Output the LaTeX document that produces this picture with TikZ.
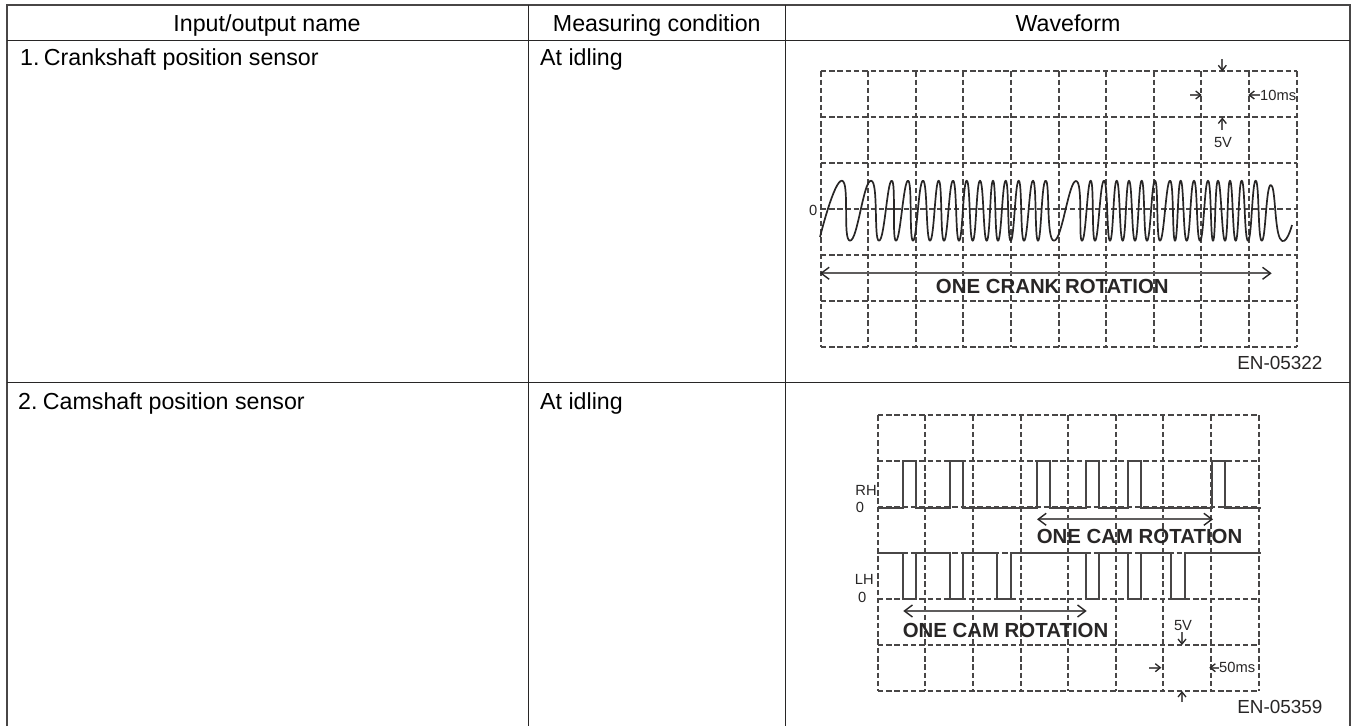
\documentclass[tikz,border=0pt]{standalone}
\usepackage{fontspec}
\setmainfont{Liberation Sans}
\usepackage{xcolor}
\usetikzlibrary{arrows.meta}
\definecolor{inkgray}{RGB}{40,38,38}
\definecolor{softgray}{RGB}{72,70,70}
\definecolor{palegray}{RGB}{95,93,93}
\tikzset{
    tableframe/.style={draw=softgray, line width=2pt},
    tablerule/.style={draw=inkgray, line width=1pt},
    griddash/.style={draw=softgray, line width=2pt, dash pattern=on 5.5pt off 2.8pt},
    signal/.style={draw=inkgray, line width=1.7pt, line join=round},
    pulse/.style={draw=softgray, line width=2pt, line join=miter},
    spanarrow/.style={draw=palegray, line width=2pt, {Straight Barb[length=8pt,width=12pt,line width=1.4pt,color=inkgray]}-{Straight Barb[length=8pt,width=12pt,line width=1.4pt,color=inkgray]}},
    tickarrow/.style={draw=palegray, line width=2pt, -{Straight Barb[length=5pt,width=8pt,line width=1.3pt,color=inkgray]}},
    celltext/.style={inner sep=0pt, anchor=base west, text=black, font=\fontsize{23.2}{26}\selectfont},
    headtext/.style={inner sep=0pt, anchor=base, text=black, font=\fontsize{23.2}{26}\selectfont},
    smalltext/.style={inner sep=0pt, text=inkgray, font=\fontsize{14.7}{17}\selectfont},
    codetext/.style={inner sep=0pt, text=inkgray, font=\fontsize{18.9}{22}\selectfont},
    spantext/.style={inner sep=0pt, text=inkgray, font=\bfseries\fontsize{20.4}{23}\selectfont}
}
\begin{document}
\begin{tikzpicture}[x=1pt, y=-1pt]
            \useasboundingbox (0,0) rectangle (1355,726);

            \draw[tableframe] (6.5,726) -- (6.5,5) -- (1350,5) -- (1350,726);
            \draw[tablerule] (6.5,40) -- (1350,40);
            \draw[tablerule] (6.5,382.5) -- (1350,382.5);
            \draw[tablerule] (528.3,5) -- (528.3,726);
            \draw[tablerule] (785.3,5) -- (785.3,726);

            \node[headtext] (headname) at (267,31.7) {Input/output name};
            \node[headtext] (headcond) at (656.8,31.7) {Measuring condition};
            \node[headtext] (headwave) at (1068,31.7) {Waveform};
            \node[celltext] (crankname) at (20,65.5) {1.\kern-2pt\ Crankshaft position sensor};
            \node[celltext] (crankcond) at (540,65.5) {At idling};
            \node[celltext] (camname) at (18,409.5) {2.\kern-1pt\ Camshaft position sensor};
            \node[celltext] (camcond) at (540,409.5) {At idling};

            \foreach \i in {0,...,10}
                \draw[griddash] (820.7+47.58*\i,71.3) -- (820.7+47.58*\i,347);
            \foreach \i in {0,...,6}
                \draw[griddash] (820.7,71.3+45.95*\i) -- (1296.5,71.3+45.95*\i);
            \foreach \i in {0,...,8}
                \draw[griddash] (877.7+47.6*\i,415.3) -- (877.7+47.6*\i,691);
            \foreach \i in {0,...,6}
                \draw[griddash] (877.7,415.3+45.95*\i) -- (1258.5,415.3+45.95*\i);

            \draw[signal] plot[smooth, tension=0.95] coordinates {
                (820,237) (842,180.7) (850,240.7) (871,180.7) (879,240.7)
                (891.7,180.7) (896,240.7) (908,180.7) (913,240.7) (923,180.7) (930,240.7) (938.7,180.7) (944,240.7)
                (953,180.7) (959,240.7) (966.7,180.7) (972.7,240.7) (980,180.7) (986.7,240.7) (993,180.7) (998,240.7)
                (1005.7,180.7) (1010.7,240.7) (1018.7,180.7) (1024,240.7) (1033,180.7) (1038,240.7) (1045.7,180.7)
                (1054,240.7) (1076,181) (1082,240.7)
                (1090.7,180.7) (1095,240.7) (1104,180.7) (1110,240.7) (1116.7,180.7) (1122.7,240.7) (1129,180.7) (1135,240.7)
                (1141.7,180.7) (1147,240.7) (1155,180.7) (1160,240.7) (1170,180.7) (1175,240.7) (1180.7,180.7) (1186.7,240.7)
                (1194,180.7) (1200,240.7) (1208,180.7) (1213,240.7) (1218,180.7) (1225,240.7) (1230,180.7) (1235.7,240.7)
                (1241.7,180.7) (1248,240.7) (1255.7,180.7) (1261.7,240.7) (1270.7,185) (1280,238.5) (1292,225)
            };

            \draw[pulse] (877.7,507.7) -- (903.3,507.7) |- (916.3,461.3) |- (949.7,507.7) |- (963,461.3) |- (1037.3,507.7) |- (1050.3,461.3) |- (1085.7,507.7)
                |- (1098.7,461.3) |- (1127.7,507.7) |- (1140.7,461.3) |- (1212.3,507.7) |- (1225.3,461.3) |- (1261,507.7);
            \draw[pulse] (877.7,553.3) -- (903.3,553.3) |- (916.3,599.3) |- (949.7,553.3) |- (963,599.3) |- (997.3,553.3) |- (1010.7,599.3) |- (1085.7,553.3)
                |- (1098.7,599.3) |- (1127.7,553.3) |- (1140.7,599.3) |- (1171.3,553.3) |- (1184.7,599.3) |- (1261,553.3);

            \coordinate (crankspanl) at (820,273.3);
            \coordinate (crankspanr) at (1271.7,273.3);
            \coordinate (rhspanl) at (1037,519.3);
            \coordinate (rhspanr) at (1213,519.3);
            \coordinate (lhspanl) at (903.3,611);
            \coordinate (lhspanr) at (1086.7,611);
            \draw[spanarrow] (crankspanl) -- (crankspanr);
            \draw[spanarrow] (rhspanl) -- (rhspanr);
            \draw[spanarrow] (lhspanl) -- (lhspanr);
            \node[spantext] (cranklabel) at (1052.3,286.7) {ONE CRANK ROTATION};
            \node[spantext] (rhlabel) at (1139.5,536) {ONE CAM ROTATION};
            \node[spantext] (lhlabel) at (1005.5,630) {ONE CAM ROTATION};

            \node[smalltext] (crankzero) at (813.3,210) {0};
            \node[smalltext] (crankvolt) at (1223,142.7) {5V};
            \node[smalltext, anchor=west] (crankms) at (1260,95) {10ms};
            \coordinate (crankvtop) at (1222.3,59);
            \coordinate (crankvtophead) at (1222.3,71.3);
            \coordinate (crankvlow) at (1222.3,130);
            \coordinate (crankvlowhead) at (1222.3,117.5);
            \coordinate (cranktleft) at (1190,95);
            \coordinate (cranktlefthead) at (1201.7,95);
            \coordinate (cranktrighthead) at (1248.3,95);
            \draw[tickarrow] (crankvtop) -- (crankvtophead);
            \draw[tickarrow] (crankvlow) -- (crankvlowhead);
            \draw[tickarrow] (cranktleft) -- (cranktlefthead);
            \draw[tickarrow] (crankms.west) -- (cranktrighthead);
            \node[codetext] (crankcode) at (1279.8,363) {EN-05322};

            \node[smalltext] (rhtag) at (866,490.7) {RH};
            \node[smalltext] (rhzero) at (860,507.3) {0};
            \node[smalltext] (lhtag) at (864.3,579) {LH};
            \node[smalltext] (lhzero) at (862.3,597.7) {0};
            \node[smalltext] (camvolt) at (1183,625.7) {5V};
            \node[smalltext, anchor=west] (camms) at (1219,667.7) {50ms};
            \coordinate (camvtop) at (1182,632);
            \coordinate (camvtophead) at (1182,645);
            \coordinate (camvlow) at (1182,702);
            \coordinate (camvlowhead) at (1182,691);
            \coordinate (camtleft) at (1149.3,667.7);
            \coordinate (camtlefthead) at (1161.3,667.7);
            \coordinate (camtrighthead) at (1209.3,667.7);
            \draw[tickarrow] (camvtop) -- (camvtophead);
            \draw[tickarrow] (camvlow) -- (camvlowhead);
            \draw[tickarrow] (camtleft) -- (camtlefthead);
            \draw[tickarrow] (camms.west) -- (camtrighthead);
            \node[codetext] (camcode) at (1279.8,707.3) {EN-05359};
        \end{tikzpicture}
\end{document}
